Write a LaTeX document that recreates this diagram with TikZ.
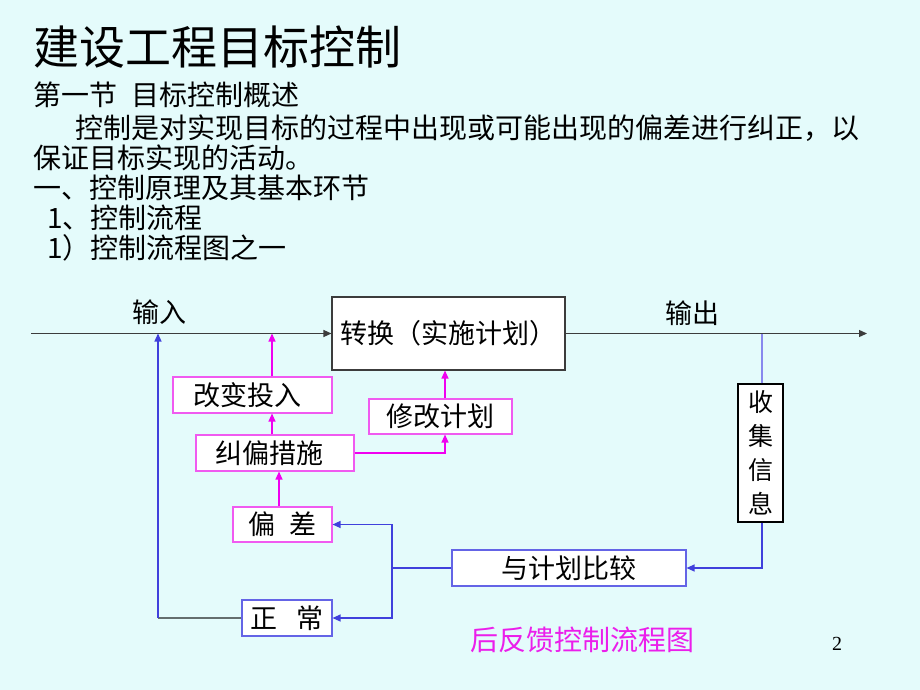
\documentclass[tikz,border=0pt]{standalone}
\usepackage{fontspec}
\setmainfont{Noto Sans CJK SC}
\newfontfamily\numfont{Liberation Serif}
\usetikzlibrary{arrows.meta,calc}
\definecolor{bgcyan}{RGB}{228,251,251}
\definecolor{magline}{RGB}{240,0,240}
\definecolor{magbox}{RGB}{240,90,240}
\definecolor{blueline}{RGB}{64,64,220}
\definecolor{bluebox}{RGB}{100,100,230}
\definecolor{lightblueline}{RGB}{136,136,238}
\definecolor{mainline}{RGB}{60,60,60}
\definecolor{grayline}{RGB}{100,110,110}
\definecolor{captionmag}{RGB}{235,30,235}
\tikzset{
  body/.style={anchor=west,inner sep=0pt,font=\fontsize{28}{32}\selectfont},
  dtext/.style={inner sep=0pt,font=\fontsize{27}{30}\selectfont},
  abox/.style={draw,fill=white,line width=1.1pt,inner sep=0pt,font=\fontsize{27}{30}\selectfont},
  magbx/.style={abox,draw=magbox},
  bluebx/.style={abox,draw=bluebox},
  tip/.style={-{Triangle[length=8pt,width=7pt]}},
  magarrow/.style={tip,draw=magline,line width=1.2pt},
  bluearrow/.style={tip,draw=blueline,line width=1.2pt},
  mainarrow/.style={tip,draw=mainline,line width=1.3pt},
}
\begin{document}
\begin{tikzpicture}[x=1pt,y=-1pt]
\fill[bgcyan] (0,0) rectangle (920,690);
\useasboundingbox (0,0) rectangle (920,690);

% header texts
\node[anchor=west,inner sep=0pt,font=\fontsize{46}{50}\selectfont] (title) at (33,47) {建设工程目标控制};
\node[body] (t1) at (33,95) {第一节\hspace{0.5em}目标控制概述};
\node[body] (t2) at (75,128) {控制是对实现目标的过程中出现或可能出现的偏差进行纠正，以};
\node[body] (t3) at (33,158) {保证目标实现的活动。};
\node[body] (t4) at (33,188) {一、控制原理及其基本环节};
\node[body] (t5) at (47,218) {1、控制流程};
\node[body] (t6) at (47,248) {1）控制流程图之一};

% boxes
\node[abox,draw=mainline,minimum width=233pt,minimum height=73pt] (conv) at (448.5,333.5) {转换（实施计划）};
\node[magbx,minimum width=159pt,minimum height=36pt] (gbtr) at (252.5,395) {\hspace*{-10pt}改变投入};
\node[magbx,minimum width=143pt,minimum height=35pt] (xgjh) at (440.5,416.5) {修改计划};
\node[magbx,minimum width=158pt,minimum height=36pt] (jpcs) at (275,453) {\hspace*{-12pt}纠偏措施};
\node[magbx,minimum width=99pt,minimum height=35pt] (pc) at (282.5,524.5) {偏\hspace{0.5em}差};
\node[bluebx,minimum width=90pt,minimum height=36pt] (zc) at (287,618) {正\hspace{0.7em}常};
\node[bluebx,minimum width=234pt,minimum height=36pt] (bj) at (569,568) {与计划比较};
\node[abox,draw=black,minimum width=45pt,minimum height=138pt,align=center,font=\fontsize{25}{34}\selectfont] (sj) at (760.5,453) {收\\集\\信\\息};

% labels
\node[dtext] (in) at (159,312) {输入};
\node[dtext] (out) at (692,313) {输出};
\node[inner sep=0pt,font=\fontsize{28}{32}\selectfont,text=captionmag] (cap) at (582,640) {后反馈控制流程图};
\node[inner sep=0pt,font=\numfont\fontsize{20}{24}\selectfont] (pg) at (837,644) {2};

% coordinates
\coordinate (start) at (31,333.5);
\coordinate (stop) at (867,333.5);
\coordinate (xin) at (158,0);
\coordinate (xg) at (272,0);
\coordinate (xx) at (445,0);
\coordinate (xp) at (279,0);
\coordinate (xs) at (762,0);
\coordinate (jx) at (392,568);

% main line
\draw[mainarrow] (start) -- (conv.west);
\draw[mainarrow] (conv.east) -- (stop);

% magenta arrows
\draw[magarrow] (gbtr.north -| xg) -- (start -| xg);
\draw[magarrow] (jpcs.north -| xg) -- (gbtr.south -| xg);
\draw[magarrow] (xgjh.north -| xx) -- (conv.south -| xx);
\draw[magarrow] (jpcs.east) -| (xgjh.south -| xx);
\draw[magarrow] (pc.north -| xp) -- (jpcs.south -| xp);

% feedback
\draw[lightblueline,line width=1.2pt] (sj.north -| xs) -- (start -| xs);
\draw[bluearrow] (sj.south -| xs) |- (bj.east);
\draw[blueline,line width=1.2pt] (bj.west) -- (jx);
\draw[bluearrow] (jx) |- (pc.east);
\draw[bluearrow] (jx) |- (zc.east);
\draw[grayline,line width=1.5pt] (zc.west) -- (zc.west -| xin);
\draw[bluearrow] (zc.west -| xin) -- (start -| xin);
\end{tikzpicture}
\end{document}
